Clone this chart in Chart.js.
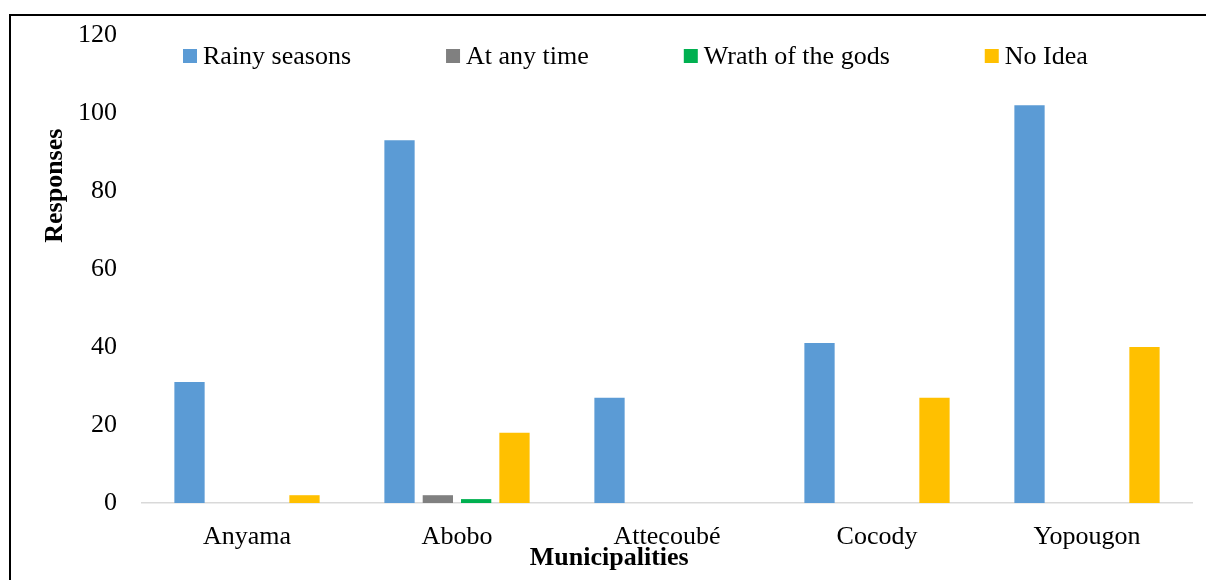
<!DOCTYPE html>
<html>
<head>
<meta charset="utf-8">
<script src="https://cdn.jsdelivr.net/npm/chart.js@4.4.1/dist/chart.umd.min.js"></script>
<style>
  html, body { margin: 0; padding: 0; background: #fff; }
  #wrap { position: relative; width: 1206px; height: 580px; overflow: hidden; }
  #frame { position: absolute; left: 9px; top: 14px; width: 1300px; height: 700px;
           border-top: 2px solid #000; border-left: 2px solid #000; box-sizing: border-box; }
  canvas { position: absolute; left: 0; top: 0; }
</style>
</head>
<body>
<div id="wrap">
  <div id="frame"></div>
  <canvas id="c" width="1206" height="580"></canvas>
</div>
<script>
const municipalities = ['Anyama', 'Abobo', 'Attecoubé', 'Cocody', 'Yopougon'];
const rainySeasons = [31, 93, 27, 41, 102];
const atAnyTime = [0, 2, 0, 0, 0];
const wrathOfTheGods = [0, 1, 0, 0, 0];
const noIdea = [2, 18, 0, 27, 40];
const yTicks = [0, 20, 40, 60, 80, 100, 120];

const seriesNames = ['Rainy seasons', 'At any time', 'Wrath of the gods', 'No Idea'];
const seriesColors = ['#5B9BD5', '#808080', '#00B050', '#FFC000'];
const seriesValues = [rainySeasons, atAnyTime, wrathOfTheGods, noIdea];

const FONT = '"Liberation Serif", "Times New Roman", serif';

// Legend row drawn inside the top of the plot, evenly spaced items
const legendRow = {
  id: 'legendRow',
  afterDraw(chart) {
    const ctx = chart.ctx;
    ctx.save();
    ctx.font = '26px ' + FONT;
    ctx.textBaseline = 'middle';
    ctx.textAlign = 'left';
    let x = 183;
    const y = 56;
    chart.data.datasets.forEach(ds => {
      ctx.fillStyle = ds.backgroundColor;
      ctx.fillRect(x, y - 7, 14, 14);
      ctx.fillStyle = '#000';
      ctx.fillText(ds.label, x + 20, y + 1);
      x += 20 + ctx.measureText(ds.label).width + 95;
    });
    ctx.restore();
  }
};

// Axis titles
const axisTitles = {
  id: 'axisTitles',
  afterDraw(chart) {
    const ctx = chart.ctx;
    const a = chart.chartArea;
    ctx.save();
    ctx.fillStyle = '#000';
    ctx.font = 'bold 26px ' + FONT;
    ctx.textAlign = 'center';
    ctx.textBaseline = 'middle';
    ctx.fillText('Municipalities', a.left + (a.right - a.left) * 0.445, 558);
    ctx.translate(55, a.top + (a.bottom - a.top) * 0.322);
    ctx.rotate(-Math.PI / 2);
    ctx.fillText('Responses', 0, 0);
    ctx.restore();
  }
};

new Chart(document.getElementById('c'), {
  type: 'bar',
  data: {
    labels: municipalities,
    datasets: seriesNames.map((name, i) => ({
      label: name,
      data: seriesValues[i],
      backgroundColor: seriesColors[i],
      borderWidth: 0,
      categoryPercentage: 0.73,
      barPercentage: 0.79
    }))
  },
  options: {
    responsive: false,
    animation: false,
    layout: { padding: { left: 0, top: 35, right: 14, bottom: 0 } },
    plugins: { legend: { display: false }, tooltip: { enabled: false } },
    scales: {
      x: {
        grid: { display: false, drawTicks: false },
        border: { display: true, color: '#D9D9D9', width: 1.5 },
        ticks: { color: '#000', font: { family: FONT, size: 26 }, padding: 19, maxRotation: 0 },
        afterFit(s) { s.height = 77; s.paddingLeft = 0; s.paddingRight = 0; }
      },
      y: {
        min: 0, max: 120,
        grid: { display: false, drawTicks: false },
        border: { display: false },
        afterBuildTicks(s) { s.ticks = yTicks.map(v => ({ value: v })); },
        ticks: { color: '#000', font: { family: FONT, size: 26 }, padding: 25 },
        afterFit(s) { s.width = 142; s.paddingTop = 0; s.paddingBottom = 0; }
      }
    }
  },
  plugins: [legendRow, axisTitles]
});
</script>
</body>
</html>
